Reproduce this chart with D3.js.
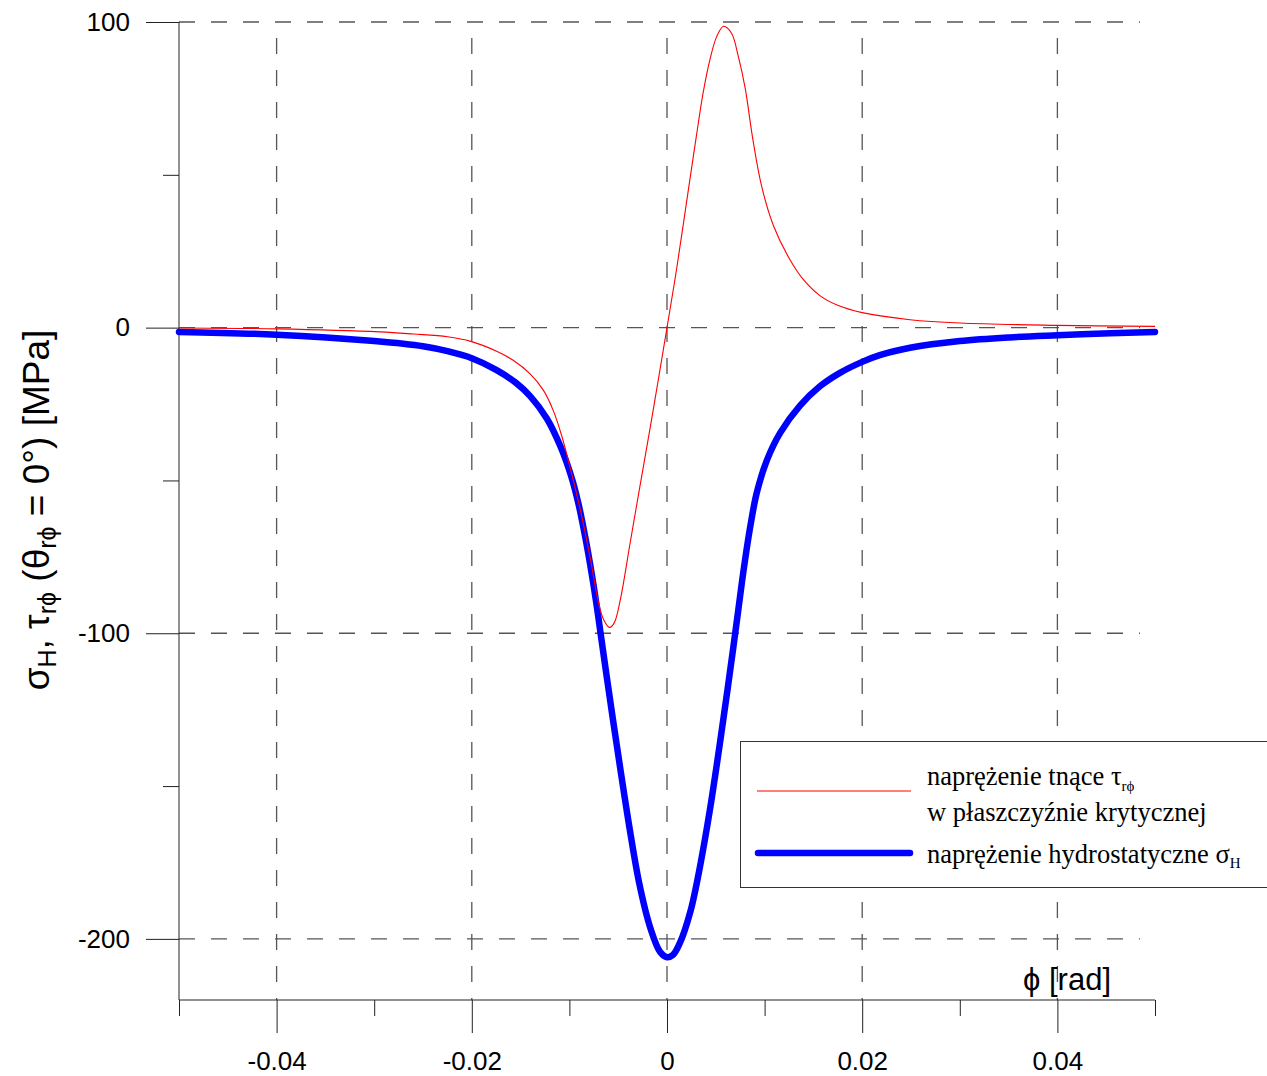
<!DOCTYPE html>
<html><head><meta charset="utf-8">
<script src="https://cdn.jsdelivr.net/npm/d3@7"></script>
<style>body{margin:0;background:#fff}svg{display:block}</style>
</head><body>
<svg id="c" width="1267" height="1076"></svg>
<script>
// ---- data ----
const blueX = [-0.05,-0.04,-0.03,-0.025,-0.0225,-0.02,-0.0175,-0.0155,-0.014,-0.0123,-0.0109,-0.0098,-0.00906,-0.00838,-0.00769,-0.00718,-0.00677,-0.0058,-0.0048,-0.0038,-0.0028,-0.0017,-0.0007,0,0.0006,0.0013,0.0024,0.0034,0.0044,0.0054,0.0062,0.0068,0.0073,0.00782,0.00851,0.0092,0.01022,0.01158,0.01363,0.01567,0.01772,0.02,0.0218,0.0249,0.03,0.0351,0.04,0.0454,0.05];
const blueY = [-1.4,-2.3,-4.4,-6.1,-7.7,-10.0,-13.8,-18.0,-22.5,-29.8,-39.0,-48.8,-57.8,-68.5,-81.0,-91.5,-100.8,-122.5,-144.0,-164.5,-182.5,-196.5,-204.3,-206,-205.3,-201.5,-191,-176,-157.7,-136.5,-118.5,-104.5,-92.5,-80,-65.5,-54,-43.5,-34.5,-25.5,-19.2,-14.8,-11.2,-9.0,-6.6,-4.4,-3.2,-2.5,-1.85,-1.4];
const redX = [-0.05,-0.04,-0.0294,-0.026,-0.0225,-0.0201,-0.0174,-0.0158,-0.014,-0.01264,-0.01162,-0.01076,-0.00991,-0.00889,-0.00786,-0.00702,-0.0065,-0.00589,-0.00541,-0.0048,-0.00377,-0.00274,-0.0017,-0.0007,0,0.001,0.002,0.003,0.0037,0.0044,0.0051,0.0058,0.0066,0.0073,0.008,0.0088,0.0097,0.0109,0.0126,0.014,0.0157,0.0175,0.02,0.0249,0.03,0.04,0.05];
const redY = [-0.1,-0.4,-1.4,-2.1,-3.0,-4.5,-7.8,-10.6,-15.2,-20.6,-27.4,-35.7,-46,-59.5,-75.5,-90,-95.5,-98.1,-96.6,-89.3,-70.3,-51.3,-32.3,-13.4,0,19.5,41,62.5,76.8,87.7,95.3,98.6,96.4,88.8,78.5,61.5,46.2,33.4,22.2,15.6,10.4,7.3,4.9,2.6,1.5,0.75,0.4];
const xMajorTicks = [-0.04,-0.02,0,0.02,0.04];
const xMinorTicks = [-0.05,-0.03,-0.01,0.01,0.03,0.05];
const xTickLabels = ["-0.04","-0.02","0","0.02","0.04"];
const yMajorTicks = [100,0,-100,-200];
const yMinorTicks = [50,-50,-150];
const yTickLabels = ["100","0","-100","-200"];
const legendLabels = ["naprężenie tnące τ", "w płaszczyźnie krytycznej", "naprężenie hydrostatyczne σ"];

// ---- drawing ----
const svg = d3.select("#c");
const x = d3.scaleLinear().domain([-0.05,0.05]).range([179,1155]);
const y = d3.scaleLinear().domain([-220,100]).range([1000,22]);
const sans = "Arial, 'Liberation Sans', sans-serif";
const serif = "'Times New Roman', 'Liberation Serif', serif";
const gridCol = "#555";

// grid
const g = svg.append("g");
g.selectAll(".hg").data(yMajorTicks).join("line")
  .attr("x1", 179).attr("x2", 1140)
  .attr("y1", d=>y(d)).attr("y2", d=>y(d))
  .attr("stroke", gridCol).attr("stroke-width", 1.3).attr("stroke-dasharray","16,16");
g.selectAll(".vg").data(xMajorTicks).join("line")
  .attr("x1", d=>x(d)).attr("x2", d=>x(d))
  .attr("y1", 22).attr("y2", 1000)
  .attr("stroke", gridCol).attr("stroke-width", 1.3).attr("stroke-dasharray","16,16").attr("stroke-dashoffset",16);

// y axis
const yAxis = svg.append("g").attr("transform","translate(179,0)")
  .call(d3.axisLeft(y).tickValues(yMajorTicks).tickSize(33).tickFormat((d,i)=>yTickLabels[i]));
yAxis.select(".domain").remove();
svg.append("line").attr("x1",179).attr("x2",179).attr("y1",22).attr("y2",1000).attr("stroke","#222");
yAxis.append("g").call(d3.axisLeft(y).tickValues(yMinorTicks).tickSize(16).tickFormat(""))
  .select(".domain").remove();
yAxis.selectAll("line").attr("stroke","#222");
yAxis.selectAll("text").attr("font-family",sans).attr("font-size",26).attr("fill","#000").attr("x",-49);

// x axis
const xAxis = svg.append("g").attr("transform","translate(0,1000)")
  .call(d3.axisBottom(x).tickValues(xMajorTicks).tickSize(33).tickFormat((d,i)=>xTickLabels[i]));
xAxis.select(".domain").remove();
svg.append("line").attr("x1",179).attr("x2",1155).attr("y1",1000).attr("y2",1000).attr("stroke","#222");
xAxis.append("g").call(d3.axisBottom(x).tickValues(xMinorTicks).tickSize(16).tickFormat(""))
  .select(".domain").remove();
xAxis.selectAll("line").attr("stroke","#222");
xAxis.selectAll("text").attr("font-family",sans).attr("font-size",26).attr("fill","#000").attr("dy",null).attr("y",70);

// curves
const line = d3.line().x(d=>x(d[0])).y(d=>y(d[1])).curve(d3.curveCatmullRom.alpha(0.5));
const blueData = blueX.map((v,i)=>[v,blueY[i]]);
const redData = redX.map((v,i)=>[v,redY[i]]);
svg.append("path").datum(blueData).attr("d",line).attr("fill","none")
  .attr("stroke","#0000ff").attr("stroke-width",6.5).attr("stroke-linecap","round").attr("stroke-linejoin","round");
svg.append("path").datum(redData).attr("d",line).attr("fill","none")
  .attr("stroke","#ff0000").attr("stroke-width",1.1);

// axis titles
const yt = svg.append("text").attr("transform","translate(49,510) rotate(-90)")
  .attr("text-anchor","middle").attr("font-family",sans).attr("font-size",37).attr("fill","#000");
yt.append("tspan").text("σ");
yt.append("tspan").attr("font-size",25).attr("dy",7).text("H");
yt.append("tspan").attr("dy",-7).text(", τ");
yt.append("tspan").attr("font-size",25).attr("dy",7).text("rϕ");
yt.append("tspan").attr("dy",-7).text(" (θ");
yt.append("tspan").attr("font-size",25).attr("dy",7).text("rϕ");
yt.append("tspan").attr("dy",-7).text(" = 0°) [MPa]");

svg.append("text").attr("x",1023).attr("y",990).attr("font-family",sans).attr("font-size",31)
  .attr("fill","#000").text("ϕ [rad]");

// legend
const lg = svg.append("g");
lg.append("rect").attr("x",740.5).attr("y",741.5).attr("width",560).attr("height",146)
  .attr("fill","#fff").attr("stroke","#333").attr("stroke-width",1);
lg.append("line").attr("x1",757).attr("x2",911).attr("y1",791).attr("y2",791)
  .attr("stroke","#ff0000").attr("stroke-width",1.1);
lg.append("line").attr("x1",758).attr("x2",910).attr("y1",853).attr("y2",853)
  .attr("stroke","#0000ff").attr("stroke-width",6.5).attr("stroke-linecap","round");
const fs = 26.5;
const t1 = lg.append("text").attr("x",927).attr("y",785).attr("font-family",serif).attr("font-size",fs).attr("fill","#000");
t1.append("tspan").text(legendLabels[0]);
t1.append("tspan").attr("font-size",15).attr("dy",6).text("rϕ");
lg.append("text").attr("x",927).attr("y",821).attr("font-family",serif).attr("font-size",fs).attr("fill","#000").text(legendLabels[1]);
const t3 = lg.append("text").attr("x",927).attr("y",863).attr("font-family",serif).attr("font-size",fs).attr("fill","#000");
t3.append("tspan").text(legendLabels[2]);
t3.append("tspan").attr("font-size",15).attr("dy",5).text("H");
</script>
</body></html>
